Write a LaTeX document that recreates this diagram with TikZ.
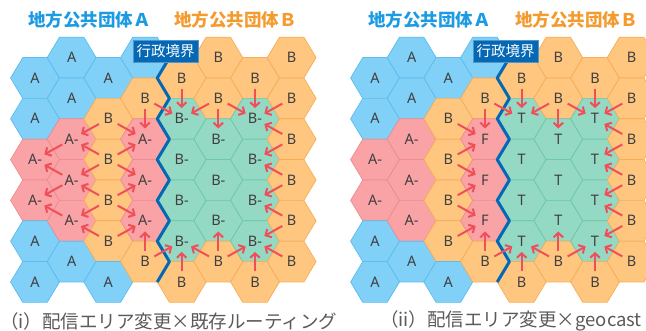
\documentclass[tikz,border=0pt]{standalone}
\usepackage{fontspec}
\newfontfamily\cjk{Noto Sans CJK JP}
\newfontfamily\lat{Noto Sans}
\usetikzlibrary{arrows.meta}
\definecolor{fill-a}{HTML}{80D0F8}
\definecolor{draw-a}{HTML}{5CBDEE}
\colorlet{fill-z}{fill-a}
\colorlet{draw-z}{draw-a}
\definecolor{fill-b}{HTML}{FFC680}
\definecolor{draw-b}{HTML}{F6AE58}
\definecolor{fill-am}{HTML}{F9A3A6}
\definecolor{draw-am}{HTML}{EE8C90}
\colorlet{fill-f}{fill-am}
\colorlet{draw-f}{draw-am}
\definecolor{fill-bm}{HTML}{94D9C4}
\definecolor{draw-bm}{HTML}{6DC7A9}
\colorlet{fill-t}{fill-bm}
\colorlet{draw-t}{draw-bm}
\definecolor{arrowred}{HTML}{F04E58}
\definecolor{bdblue}{HTML}{0568B5}
\definecolor{titleA}{HTML}{1D9BE2}
\definecolor{titleB}{HTML}{F39B2F}
\definecolor{captiongray}{HTML}{5A5A5A}
\definecolor{lettergray}{HTML}{404040}
\def\LBLa{A}\def\LBLz{}\def\LBLb{B}\def\LBLam{A-}\def\LBLbm{B-}\def\LBLf{F}\def\LBLt{T}
\tikzset{
  hexcell/.pic={\path[pic actions] (24.44,0) -- (12.22,-20.4) -- (-12.22,-20.4) -- (-24.44,0) -- (-12.22,20.4) -- (12.22,20.4) -- cycle;},
  lbl/.style={circle, minimum size=21pt, inner sep=0pt, text=lettergray, font=\lat\fontsize{14.5}{16}\selectfont},
  arr/.style={draw=arrowred, line width=2pt, -{Straight Barb[length=4.5pt,width=9.5pt]}},
  bound/.style={draw=bdblue, line width=3pt, line join=round},
  admin/.style={fill=bdblue, draw=bdblue!70!white, line width=0.6pt, text=white, minimum width=65pt, minimum height=22pt, inner sep=0pt, font=\cjk\fontsize{14.5}{16}\selectfont},
  title/.style={font=\cjk\bfseries\fontsize{17.5}{20}\selectfont},
  caption/.style={anchor=west, text=captiongray, font=\cjk\fontsize{18.5}{20}\selectfont, inner sep=0pt}
}
\newcommand\hexcolumn[4]{%
  \foreach \k [count=\r from 0] in {#4}{%
    \pic[fill=fill-\k, draw=draw-\k, line width=0.7pt] at (#2,{#3+40.8*\r}) {hexcell};
    \node[lbl] (#1-\r) at (#2,{#3+40.8*\r}) {\csname LBL\k\endcsname};
  }%
}
\begin{document}
\begin{tikzpicture}[x=1pt,y=-1pt]
\useasboundingbox (0,0) rectangle (646,331);
\clip (0,0) rectangle (646,331);
% left panel
\hexcolumn{L1}{35}{78}{a,a,am,am,a,a}
\hexcolumn{L2}{71.67}{57.6}{a,a,am,am,am,a}
\hexcolumn{L3}{108.33}{78}{a,b,b,b,b,a}
\hexcolumn{L4}{145}{57.6}{z,b,am,am,am,b}
\hexcolumn{L5}{181.67}{78}{b,bm,bm,bm,bm,b}
\hexcolumn{L6}{218.33}{57.6}{b,b,bm,bm,bm,b}
\hexcolumn{L7}{255}{78}{b,bm,bm,bm,bm,b}
\hexcolumn{L8}{291.67}{57.6}{b,b,b,b,b,b}
% right panel
\hexcolumn{R1}{375}{78}{a,a,am,am,a,a}
\hexcolumn{R2}{411.67}{57.6}{a,a,am,am,am,a}
\hexcolumn{R3}{448.33}{78}{a,b,b,b,b,a}
\hexcolumn{R4}{485}{57.6}{z,b,f,f,f,b}
\hexcolumn{R5}{521.67}{78}{b,t,t,t,t,b}
\hexcolumn{R6}{558.33}{57.6}{b,b,t,t,t,b}
\hexcolumn{R7}{595}{78}{b,t,t,t,t,b}
\hexcolumn{R8}{631.67}{57.6}{b,b,b,b,b,b}
% boundaries
\draw[bound] (169.45,57.6) -- (157.23,78) -- (169.45,98.4) -- (157.23,118.8) -- (169.45,139.2) -- (157.23,159.6) -- (169.45,180) -- (157.23,200.4) -- (169.45,220.8) -- (157.23,241.2) -- (169.45,261.6) -- (157.23,282);
\draw[bound] (509.45,57.6) -- (497.23,78) -- (509.45,98.4) -- (497.23,118.8) -- (509.45,139.2) -- (497.23,159.6) -- (509.45,180) -- (497.23,200.4) -- (509.45,220.8) -- (497.23,241.2) -- (509.45,261.6) -- (497.23,282);
% arrows B -> B- / T (both panels)
\foreach \p in {L,R}{
  \foreach \a/\b in {5-0/5-1, 4-1/5-1, 6-1/5-1, 6-1/6-2, 6-1/7-1, 7-0/7-1, 8-1/7-1, 8-2/7-1, 8-2/7-2, 8-3/7-2, 8-3/7-3, 8-4/7-3, 8-4/7-4, 8-5/7-4, 7-5/7-4, 6-5/5-4, 6-5/6-4, 6-5/7-4, 5-5/5-4, 4-5/5-4}{
    \draw[arr] (\p\a) -- (\p\b);
  }
}
% left: B -> A-, A- -> A-
\foreach \a/\b in {4-1/4-2, 3-1/2-2, 3-1/4-2, 3-2/2-2, 3-2/2-3, 3-2/4-2, 3-2/4-3, 3-3/2-3, 3-3/2-4, 3-3/4-3, 3-3/4-4, 3-4/2-4, 3-4/4-4, 4-5/4-4, 2-2/1-2, 2-3/1-2, 2-3/1-3, 2-4/1-3}{
  \draw[arr] (L\a) -- (L\b);
}
% right: B -> F
\foreach \a/\b in {4-1/4-2, 3-1/4-2, 3-2/4-2, 3-2/4-3, 3-3/4-3, 3-3/4-4, 3-4/4-4, 4-5/4-4}{
  \draw[arr] (R\a) -- (R\b);
}
% labels
\node[admin] (LAdm) at (165.5,51) {行政境界};
\node[admin] (RAdm) at (505.5,51) {行政境界};
\node[title, text=titleA] (LTA) at (89.5,20) {地方公共団体Ａ};
\node[title, text=titleB] (LTB) at (235.5,20) {地方公共団体Ｂ};
\node[title, text=titleA] (RTA) at (429.5,20) {地方公共団体Ａ};
\node[title, text=titleB] (RTB) at (576.5,20) {地方公共団体Ｂ};
\node[caption] (LCap) at (0,321) {（i）配信エリア変更×既存ルーティング};
\node[caption] (RCap) at (380,321) {（ii）配信エリア変更×geocast};
\end{tikzpicture}
\end{document}
